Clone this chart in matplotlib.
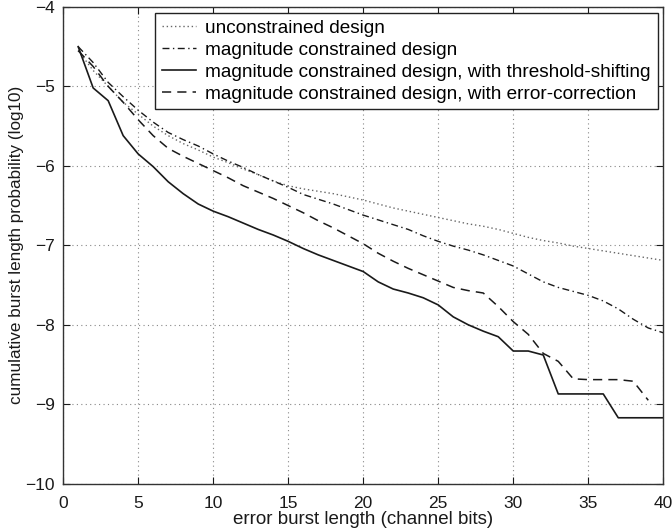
import numpy as np
import matplotlib
matplotlib.use("Agg")
import matplotlib.pyplot as plt

# burst length axis (channel bits)
burst = np.arange(1, 41)

# cumulative burst length probability (log10)
unconstrained = [-4.55, -4.80, -5.00, -5.20, -5.35, -5.50, -5.62, -5.72, -5.80, -5.89,
                 -5.96, -6.04, -6.11, -6.19, -6.25, -6.29, -6.32, -6.35, -6.39, -6.43,
                 -6.48, -6.53, -6.57, -6.61, -6.65, -6.69, -6.73, -6.76, -6.80, -6.85,
                 -6.90, -6.94, -6.97, -7.01, -7.04, -7.07, -7.10, -7.13, -7.16, -7.19]
mag_constrained = [-4.50, -4.70, -4.95, -5.13, -5.30, -5.45, -5.58, -5.67, -5.75, -5.85,
                   -5.94, -6.02, -6.11, -6.19, -6.27, -6.36, -6.42, -6.48, -6.55, -6.62,
                   -6.68, -6.74, -6.80, -6.88, -6.95, -7.01, -7.06, -7.12, -7.19, -7.26,
                   -7.36, -7.46, -7.53, -7.58, -7.63, -7.70, -7.80, -7.93, -8.04, -8.10]
threshold_shift = [-4.50, -5.02, -5.18, -5.62, -5.85, -6.01, -6.20, -6.35, -6.48, -6.57,
                   -6.64, -6.72, -6.80, -6.87, -6.95, -7.04, -7.12, -7.19, -7.26, -7.33,
                   -7.46, -7.55, -7.60, -7.66, -7.75, -7.90, -8.00, -8.08, -8.15, -8.33,
                   -8.33, -8.38, -8.87, -8.87, -8.87, -8.87, -9.17, -9.17, -9.17, -9.17]
# error-correction curve stops at 39 bits
error_corr = [-4.55, -4.75, -5.00, -5.20, -5.42, -5.62, -5.78, -5.88, -5.97, -6.06,
              -6.15, -6.25, -6.33, -6.41, -6.50, -6.59, -6.69, -6.78, -6.88, -6.98,
              -7.10, -7.20, -7.29, -7.37, -7.45, -7.53, -7.57, -7.60, -7.77, -7.96,
              -8.12, -8.36, -8.46, -8.68, -8.69, -8.69, -8.69, -8.71, -8.95]

labels = ["unconstrained design",
          "magnitude constrained design",
          "magnitude constrained design, with threshold-shifting",
          "magnitude constrained design, with error-correction"]

plt.rcParams["font.family"] = ["Liberation Sans", "DejaVu Sans"]

fig = plt.figure(figsize=(6.72, 5.31), dpi=100)
ax = fig.add_axes([0.094, 0.089, 0.893, 0.898])

ink = "#1a1a1a"
ax.plot(burst, unconstrained, color="#666666", linestyle=(0, (1, 2)), linewidth=1.0, label=labels[0])
ax.plot(burst, mag_constrained, color=ink, linestyle=(0, (5, 2.5, 1, 2.5)), linewidth=1.0, label=labels[1])
ax.plot(burst, threshold_shift, color=ink, linestyle="-", linewidth=1.2, label=labels[2])
ax.plot(burst[:len(error_corr)], error_corr, color=ink, linestyle=(0, (6, 4)), linewidth=1.1, label=labels[3])

ax.set_xlim(0, 40)
ax.set_ylim(-10, -4)
ax.set_xticks(range(0, 41, 5))
ax.set_yticks(range(-10, -3))
ax.tick_params(direction="in", top=True, right=True, length=5, labelsize=12.5, colors=ink)
ax.tick_params(axis="x", pad=9)
ax.tick_params(axis="y", pad=6)
ax.grid(True, linestyle=(0, (1, 3)), color="#888888", linewidth=0.8)
for s in ax.spines.values():
    s.set_color("#333333")
    s.set_linewidth(1.0)

ax.set_xlabel("error burst length (channel bits)", fontsize=13.5, labelpad=0, color=ink)
ax.set_ylabel("cumulative burst length probability (log10)", fontsize=12.3, labelpad=1, color=ink)

leg = ax.legend(loc="upper right", fontsize=13.7, frameon=True, fancybox=False,
                handlelength=1.8, labelspacing=0.25, borderpad=0.35, handletextpad=0.5,
                borderaxespad=0.3)
leg.get_frame().set_edgecolor("#222222")
leg.get_frame().set_linewidth(1.0)
leg.get_frame().set_alpha(1.0)

fig.savefig("out.png", dpi=100)
